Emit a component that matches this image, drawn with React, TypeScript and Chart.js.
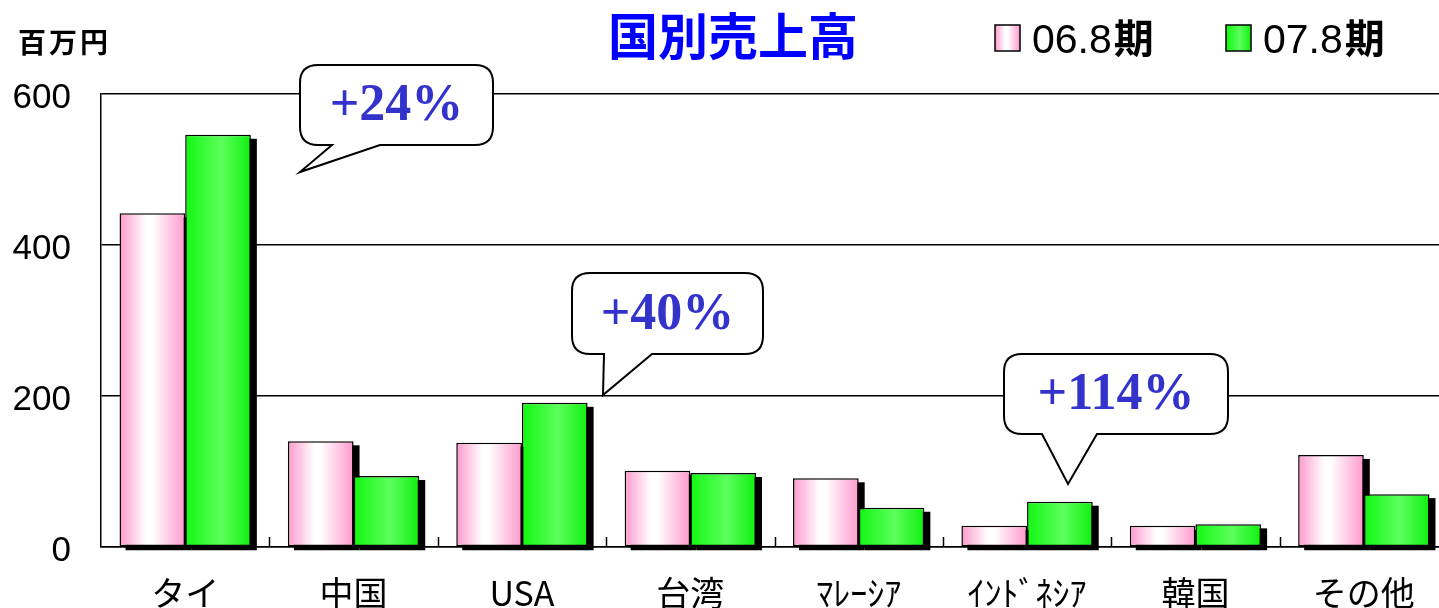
import React, { useEffect, useRef } from "react";
import { Chart, registerables } from "chart.js";

Chart.register(...registerables);

const categories = ["タイ", "中国", "USA", "台湾", "ﾏﾚｰｼｱ", "ｲﾝﾄﾞﾈｼｱ", "韓国", "その他"];
const fy06 = [442, 140, 138, 101, 91, 28, 28, 122];
const fy07 = [546, 94, 191, 98, 52, 60, 30, 70];
const seriesNames = ["06.8期", "07.8期"];
const yTicks = [0, 200, 400, 600];
const growthLabels = ["+24%", "+40%", "+114%"];
const titleText = "国別売上高";
const unitText = "百万円";

// callout geometry (pixels): box [left, top, right, bottom], tail base [x1, x2], tip [x, y]
const calloutLayout = [
  { box: [300, 65, 493, 145], tail: [332, 380], tip: [300, 172] },
  { box: [572, 273, 763, 354], tail: [604, 652], tip: [603, 395] },
  { box: [1004, 354, 1228, 434], tail: [1042, 1097], tip: [1068, 484] },
];

const CAT_PCT = 0.78;
const pinkStops: [number, string][] = [
  [0, "#ff99cc"],
  [0.4, "#ffffff"],
  [0.5, "#ffffff"],
  [1, "#ff99cc"],
];
const greenStops: [number, string][] = [
  [0, "#12f812"],
  [0.55, "#5cff5c"],
  [1, "#10f010"],
];

function makeGrad(ctx: CanvasRenderingContext2D, x0: number, x1: number, stops: [number, string][]) {
  const g = ctx.createLinearGradient(x0, 0, x1, 0);
  stops.forEach(([o, c]) => g.addColorStop(o, c));
  return g;
}

const barFill = (stops: [number, string][]) => (c: any) => {
  const chart = c.chart;
  const xs = chart.scales && chart.scales.x;
  if (!xs || c.dataIndex === undefined || !isFinite(xs.left)) return stops[0][1];
  const center = xs.getPixelForValue(c.dataIndex);
  const catW = (xs.right - xs.left) / categories.length;
  const bw = (catW * CAT_PCT) / 2;
  const left = c.datasetIndex === 0 ? center - bw : center;
  return makeGrad(chart.ctx, left, left + bw, stops);
};

function bubblePath(ctx: CanvasRenderingContext2D, L: number, T: number, R: number, B: number, r: number, t1: number, t2: number, tip: number[]) {
  ctx.beginPath();
  ctx.moveTo(L + r, T);
  ctx.lineTo(R - r, T);
  ctx.quadraticCurveTo(R, T, R, T + r);
  ctx.lineTo(R, B - r);
  ctx.quadraticCurveTo(R, B, R - r, B);
  ctx.lineTo(t2, B);
  ctx.lineTo(tip[0], tip[1]);
  ctx.lineTo(t1, B);
  ctx.lineTo(L + r, B);
  ctx.quadraticCurveTo(L, B, L, B - r);
  ctx.lineTo(L, T + r);
  ctx.quadraticCurveTo(L, T, L + r, T);
  ctx.closePath();
}

const decorPlugin = {
  id: "decor",
  beforeDatasetsDraw(chart: any) {
    const ctx = chart.ctx;
    ctx.save();
    ctx.fillStyle = "#000";
    chart.data.datasets.forEach((_: any, i: number) => {
      const meta = chart.getDatasetMeta(i);
      meta.data.forEach((el: any) => {
        const p = el.getProps(["x", "y", "base", "width"], true);
        ctx.fillRect(p.x - p.width / 2 + 6, p.y + 4, p.width, p.base - p.y);
      });
    });
    ctx.restore();
  },
  afterDatasetsDraw(chart: any) {
    const ctx = chart.ctx;
    const xs = chart.scales.x;
    const bottom = chart.chartArea.bottom;
    const catW = (xs.right - xs.left) / categories.length;
    ctx.save();
    ctx.strokeStyle = "#000";
    ctx.lineWidth = 1.5;
    for (let i = 1; i < categories.length; i++) {
      const x = Math.round(xs.getPixelForValue(i) - catW / 2) + 0.5;
      ctx.beginPath();
      ctx.moveTo(x, bottom);
      ctx.lineTo(x, bottom - 10);
      ctx.stroke();
    }
    ctx.restore();
  },
  afterDraw(chart: any) {
    const ctx = chart.ctx;
    ctx.save();
    // title
    ctx.fillStyle = "#0000ff";
    ctx.font = "bold 50px 'Noto Sans CJK JP'";
    ctx.textAlign = "center";
    ctx.textBaseline = "middle";
    ctx.fillText(titleText, 733, 36);
    // unit
    ctx.fillStyle = "#000";
    ctx.font = "bold 28px 'Noto Sans CJK JP'";
    ctx.textAlign = "left";
    (ctx as any).letterSpacing = "3px";
    ctx.fillText(unitText, 18, 42);
    (ctx as any).letterSpacing = "0px";
    // legend
    const legendX = [995, 1226];
    const stopsArr = [pinkStops, greenStops];
    seriesNames.forEach((name, i) => {
      const bx = legendX[i];
      ctx.fillStyle = makeGrad(ctx, bx, bx + 25, stopsArr[i]);
      ctx.fillRect(bx, 25, 25, 26);
      ctx.strokeStyle = "#000";
      ctx.lineWidth = 1.5;
      ctx.strokeRect(bx, 25, 25, 26);
      ctx.fillStyle = "#000";
      ctx.textBaseline = "alphabetic";
      ctx.textAlign = "left";
      const num = name.slice(0, -1);
      const suf = name.slice(-1);
      ctx.font = "41px 'Liberation Sans'";
      ctx.fillText(num, bx + 37, 53);
      const w = ctx.measureText(num).width;
      ctx.font = "bold 40px 'Noto Sans CJK JP'";
      ctx.fillText(suf, bx + 37 + w + 2, 53);
    });
    // callouts
    calloutLayout.forEach((c, i) => {
      const [L, T, R, B] = c.box;
      bubblePath(ctx, L, T, R, B, 18, c.tail[0], c.tail[1], c.tip);
      ctx.fillStyle = "#fff";
      ctx.fill();
      ctx.strokeStyle = "#000";
      ctx.lineWidth = 2;
      ctx.lineJoin = "miter";
      ctx.stroke();
      ctx.fillStyle = "#3333cc";
      ctx.font = "bold 52px 'Liberation Serif'";
      ctx.textAlign = "center";
      ctx.textBaseline = "alphabetic";
      ctx.fillText(growthLabels[i], (L + R) / 2, (T + B) / 2 + 15);
    });
    ctx.restore();
  },
};

export default function App() {
  const ref = useRef<HTMLCanvasElement | null>(null);
  useEffect(() => {
    if (!ref.current) return;
    const chart = new Chart(ref.current, {
      type: "bar",
      data: {
        labels: categories,
        datasets: [
          {
            label: seriesNames[0],
            data: fy06,
            backgroundColor: barFill(pinkStops) as any,
            borderColor: "#000",
            borderWidth: 1.5,
            borderSkipped: false,
            categoryPercentage: CAT_PCT,
            barPercentage: 1,
          },
          {
            label: seriesNames[1],
            data: fy07,
            backgroundColor: barFill(greenStops) as any,
            borderColor: "#000",
            borderWidth: 1.5,
            borderSkipped: false,
            categoryPercentage: CAT_PCT,
            barPercentage: 1,
          },
        ],
      },
      options: {
        responsive: false,
        devicePixelRatio: 1,
        animation: false,
        layout: { padding: { top: 94, left: 0, right: 0, bottom: 0 } },
        plugins: {
          legend: { display: false },
          title: { display: false },
          tooltip: { enabled: false },
        },
        scales: {
          x: {
            type: "category",
            offset: true,
            grid: { display: false, drawTicks: false },
            border: { display: true, color: "#000", width: 1.5 },
            ticks: {
              color: "#000",
              font: { family: "'Noto Sans CJK JP'", size: 34 },
              padding: 26,
              maxRotation: 0,
              autoSkip: false,
            },
            afterFit: (s: any) => {
              s.height = 61;
            },
          },
          y: {
            min: 0,
            max: 600,
            afterBuildTicks: (s: any) => {
              s.ticks = yTicks.map((v) => ({ value: v }));
            },
            ticks: {
              color: "#000",
              font: { family: "'Liberation Sans'", size: 35 },
              padding: 30,
              labelOffset: 4,
            },
            grid: { color: "#000", lineWidth: 1.5, drawTicks: false },
            border: { display: true, color: "#000", width: 1.5 },
            afterFit: (s: any) => {
              s.width = 101;
            },
          },
        },
      },
      plugins: [decorPlugin],
    });
    return () => chart.destroy();
  }, []);
  return (
    <div
      style={{
        position: "fixed",
        left: 0,
        top: 0,
        width: 1439,
        height: 608,
        overflow: "hidden",
        background: "#fff",
      }}
    >
      <canvas ref={ref} width={1448} height={608} style={{ display: "block", width: 1448, height: 608 }} />
    </div>
  );
}
